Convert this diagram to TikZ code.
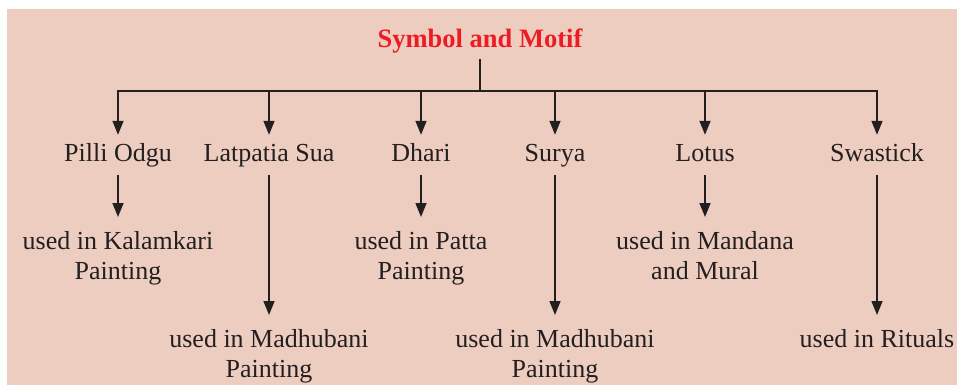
\documentclass[tikz,border=0pt]{standalone}
\usepackage{fontspec}
\setmainfont{Liberation Serif}
\usetikzlibrary{arrows.meta}
\definecolor{bgpink}{RGB}{237,205,192}
\definecolor{titlered}{RGB}{237,28,36}
\definecolor{ink}{RGB}{35,31,32}
\tikzset{
  conn/.style={draw=ink, line width=1.5pt},
  arr/.style={conn, -{Triangle[width=11pt,length=14pt]}},
  lvlone/.style={font=\fontsize{26}{30}\selectfont, text=ink, text height=18pt, text depth=6pt, inner xsep=0pt, inner ysep=8pt, anchor=base},
  lvltwo/.style={font=\fontsize{26}{30}\selectfont, text=ink, align=center, inner xsep=0pt, inner ysep=14pt, anchor=north},
  titlebox/.style={font=\fontsize{26.5}{30}\selectfont\bfseries, text=titlered, text depth=6pt, inner ysep=6pt, anchor=base}
}
\begin{document}
\begin{tikzpicture}[x=1pt, y=-1pt]
\useasboundingbox (0,0) rectangle (957,386);
\fill[bgpink] (7,9) rectangle (957,385);

\node[titlebox] (title) at (480,47) {Symbol and Motif};

\coordinate (j1) at (118,91);
\coordinate (j2) at (269,91);
\coordinate (j3) at (421,91);
\coordinate (j4) at (555,91);
\coordinate (j5) at (705,91);
\coordinate (j6) at (877,91);

\node[lvlone] (n1) at (118,161) {Pilli Odgu};
\node[lvlone] (n2) at (269,161) {Latpatia Sua};
\node[lvlone] (n3) at (421,161) {Dhari};
\node[lvlone] (n4) at (555,161) {Surya};
\node[lvlone] (n5) at (705,161) {Lotus};
\node[lvlone] (n6) at (877,161) {Swastick};

\node[lvltwo] (u1) at (118,217) {used in Kalamkari\\Painting};
\node[lvltwo] (u2) at (269,315) {used in Madhubani\\Painting};
\node[lvltwo] (u3) at (421,217) {used in Patta\\Painting};
\node[lvltwo] (u4) at (555,315) {used in Madhubani\\Painting};
\node[lvltwo] (u5) at (705,217) {used in Mandana\\and Mural};
\node[lvltwo] (u6) at (877,315) {used in Rituals};

\draw[conn] (title.south) -- (title.south |- j1);
\draw[conn, line cap=rect] (j1) -- (j6);
\foreach \i in {1,...,6}{
  \draw[arr] (j\i) -- (n\i.north);
  \draw[arr] (n\i.south) -- (u\i.north);
}
\end{tikzpicture}
\end{document}
